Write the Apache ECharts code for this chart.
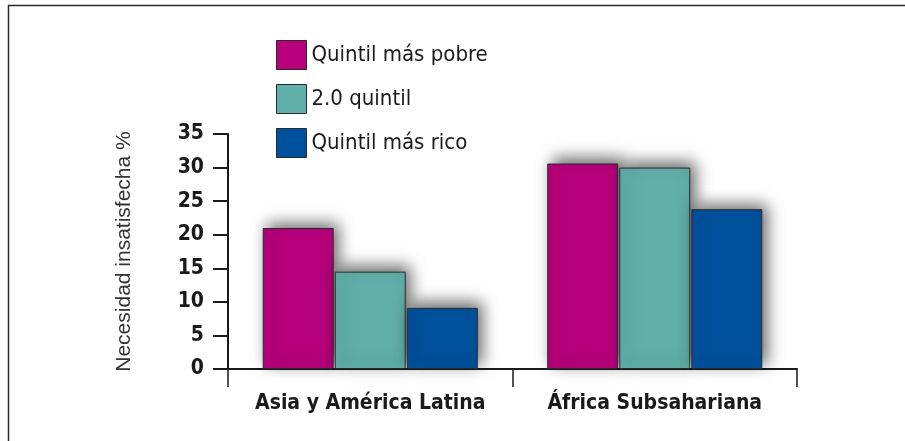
<!DOCTYPE html>
<html>
<head>
<meta charset="utf-8">
<script src="https://cdn.jsdelivr.net/npm/echarts@6/dist/echarts.min.js"></script>
<style>
  html, body { margin: 0; padding: 0; background: #fff; }
  #chart { width: 905px; height: 441px; }
</style>
</head>
<body>
<div id="chart"></div>
<script>
// Unmet need for family planning by wealth quintil, per region
var regions = ['Asia y América Latina', 'África Subsahariana'];
var seriesNames = ['Quintil más pobre', '2.0 quintil', 'Quintil más rico'];
var poorest = [21.0, 30.6];
var second = [14.5, 30.0];
var richest = [9.1, 23.8];
var yTicks = [0, 5, 10, 15, 20, 25, 30, 35];
var yTitle = 'Necesidad insatisfecha %';

var colors = ['#B7007B', '#60AFA8', '#00519D'];
var values = [poorest, second, richest];
var narrow = "'Liberation Sans Narrow', 'DejaVu Sans Condensed', 'Roboto Condensed', 'Liberation Sans', sans-serif";

var chart = echarts.init(document.getElementById('chart'));

var series = seriesNames.map(function (name, i) {
  return {
    name: name,
    type: 'bar',
    data: values[i],
    barGap: '1.5%',
    barCategoryGap: '24.4%',
    itemStyle: {
      color: colors[i],
      borderColor: '#2a2a2a',
      borderWidth: 1,
      shadowColor: 'rgba(0,0,0,0.6)',
      shadowBlur: 15,
      shadowOffsetX: 5,
      shadowOffsetY: -5
    }
  };
});

chart.setOption({
  animation: false,
  backgroundColor: '#fff',
  graphic: [{
    type: 'rect',
    shape: { x: 8.5, y: 5.5, width: 1200, height: 1200 },
    style: { fill: 'none', stroke: '#2b2b2b', lineWidth: 1.5 },
    silent: true,
    z: -1
  }],
  legend: {
    orient: 'vertical',
    left: 271,
    top: 35,
    itemWidth: 30,
    itemHeight: 29,
    itemGap: 14,
    icon: 'rect',
    data: seriesNames,
    itemStyle: { borderColor: '#2a2a2a', borderWidth: 1, shadowBlur: 0, shadowOffsetX: 0, shadowOffsetY: 0 },
    textStyle: {
      fontFamily: narrow,
      fontSize: 22,
      color: '#1a1a1a',
      padding: [8, 0, 0, 0]
    }
  },
  grid: { left: 228, right: 108, top: 134, bottom: 72, containLabel: false },
  xAxis: {
    type: 'category',
    data: regions,
    axisLine: { lineStyle: { color: '#1a1a1a', width: 2 } },
    axisTick: { show: true, interval: 0, length: 18, lineStyle: { color: '#1a1a1a', width: 1.5 } },
    axisLabel: {
      interval: 0,
      fontFamily: narrow,
      fontWeight: 'bold',
      fontSize: 21,
      color: '#1a1a1a',
      margin: 24
    }
  },
  yAxis: {
    type: 'value',
    min: 0,
    max: 35,
    interval: 5,
    name: yTitle,
    nameLocation: 'middle',
    nameRotate: 90,
    nameGap: 93,
    nameTextStyle: {
      fontFamily: "'Liberation Sans', Arial, sans-serif",
      fontSize: 21,
      color: '#333'
    },
    splitLine: { show: false },
    axisLine: { show: true, lineStyle: { color: '#1a1a1a', width: 2 } },
    axisTick: { show: true, length: 15, lineStyle: { color: '#1a1a1a', width: 2 } },
    axisLabel: {
      fontFamily: narrow,
      fontWeight: 'bold',
      fontSize: 21,
      color: '#1a1a1a',
      margin: 24,
      formatter: function (v) { return yTicks.indexOf(v) >= 0 ? String(v) : ''; }
    }
  },
  series: series
});
</script>
</body>
</html>
